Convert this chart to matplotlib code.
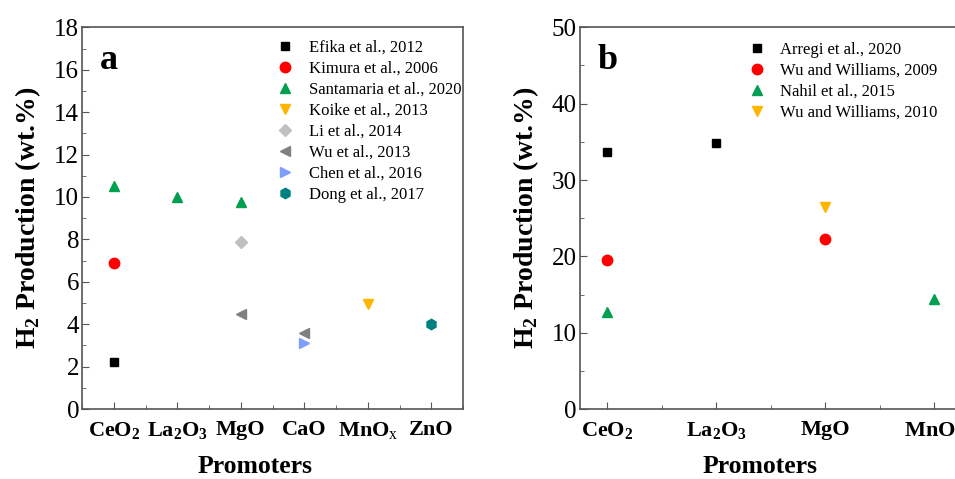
import matplotlib.pyplot as plt
from matplotlib.ticker import MultipleLocator

plt.rcParams['font.family'] = ['Liberation Serif', 'DejaVu Serif']
plt.rcParams['mathtext.fontset'] = 'custom'
plt.rcParams['mathtext.rm'] = 'Liberation Serif'
plt.rcParams['mathtext.bf'] = 'Liberation Serif:bold'

# panel a
cats_a = ['CeO2', 'La2O3', 'MgO', 'CaO', 'MnOx', 'ZnO']
labels_a = ['$\\mathbf{CeO_2}$', '$\\mathbf{La_2O_3}$', 'MgO', 'CaO', 'MnO$_\\mathrm{x}$', 'ZnO']
efika_x, efika_y = ['CeO2'], [2.2]
kimura_x, kimura_y = ['CeO2'], [6.9]
santa_x, santa_y = ['CeO2', 'La2O3', 'MgO'], [10.5, 10.0, 9.75]
koike_x, koike_y = ['MnOx'], [4.95]
li_x, li_y = ['MgO'], [7.9]
wu13_x, wu13_y = ['MgO', 'CaO'], [4.5, 3.6]
chen_x, chen_y = ['CaO'], [3.1]
dong_x, dong_y = ['ZnO'], [4.0]

# panel b
cats_b = ['CeO2', 'La2O3', 'MgO', 'MnOx']
labels_b = ['$\\mathbf{CeO_2}$', '$\\mathbf{La_2O_3}$', 'MgO', 'MnO$_\\mathrm{x}$']
arregi_x, arregi_y = ['CeO2', 'La2O3'], [33.7, 34.9]
ww09_x, ww09_y = ['CeO2', 'MgO'], [19.5, 22.3]
nahil_x, nahil_y = ['CeO2', 'MnOx'], [12.7, 14.4]
ww10_x, ww10_y = ['MgO'], [26.5]

fig = plt.figure(figsize=(9.55, 4.79), dpi=100)
ax1 = fig.add_axes([0.0859, 0.146, 0.399, 0.797])
ax2 = fig.add_axes([0.607, 0.146, 0.4, 0.797])


def idx(cats, xs):
    return [cats.index(c) for c in xs]


ms = 7.5
series_a = [
    (efika_x, efika_y, 's', 'black', 'Efika et al., 2012'),
    (kimura_x, kimura_y, 'o', '#ff0000', 'Kimura et al., 2006'),
    (santa_x, santa_y, '^', '#00a050', 'Santamaria et al., 2020'),
    (koike_x, koike_y, 'v', '#ffb400', 'Koike et al., 2013'),
    (li_x, li_y, 'D', '#c0c0c0', 'Li et al., 2014'),
    (wu13_x, wu13_y, '<', '#808080', 'Wu et al., 2013'),
    (chen_x, chen_y, '>', '#7f9fff', 'Chen et al., 2016'),
    (dong_x, dong_y, 'h', '#008080', 'Dong et al., 2017'),
]
for xs, ys, m, c, lab in series_a:
    s = ms - 1.5 if m in ('D', 's') else ms
    ax1.plot(idx(cats_a, xs), ys, ls='none', marker=m, color=c, ms=s, label=lab)

series_b = [
    (arregi_x, arregi_y, 's', 'black', 'Arregi et al., 2020'),
    (ww09_x, ww09_y, 'o', '#ff0000', 'Wu and Williams, 2009'),
    (nahil_x, nahil_y, '^', '#00a050', 'Nahil et al., 2015'),
    (ww10_x, ww10_y, 'v', '#ffb400', 'Wu and Williams, 2010'),
]
for xs, ys, m, c, lab in series_b:
    s = ms - 1.5 if m == 's' else ms
    ax2.plot(idx(cats_b, xs), ys, ls='none', marker=m, color=c, ms=s, label=lab)

ax1.set_xlim(-0.5, 5.5)
ax1.set_ylim(0, 18)
ax1.set_xticks(range(len(cats_a)))
ax1.set_xticklabels(labels_a)
ax1.yaxis.set_major_locator(MultipleLocator(2))
ax1.yaxis.set_minor_locator(MultipleLocator(1))
ax1.xaxis.set_minor_locator(MultipleLocator(0.5))

ax2.set_xlim(-0.25, 3.25)
ax2.set_ylim(0, 50)
ax2.set_xticks(range(len(cats_b)))
ax2.set_xticklabels(labels_b)
ax2.yaxis.set_major_locator(MultipleLocator(10))
ax2.yaxis.set_minor_locator(MultipleLocator(5))
ax2.xaxis.set_minor_locator(MultipleLocator(0.5))

for ax, letter, lx in [(ax1, 'a', 0.454), (ax2, 'b', 0.471)]:
    for sp in ax.spines.values():
        sp.set_color('#555555')
        sp.set_linewidth(1.2)
    ax.tick_params(which='both', direction='in', colors='#555555', labelcolor='black')
    ax.tick_params(which='major', length=5)
    ax.tick_params(which='minor', length=3)
    ax.tick_params(axis='y', labelsize=18, pad=2)
    ax.tick_params(axis='x', labelsize=16, pad=8)
    for t in ax.get_xticklabels():
        t.set_fontweight('bold')
    ax.set_xlabel('Promoters', fontsize=18.5, fontweight='bold')
    ax.xaxis.set_label_coords(lx, -0.12)
    ax.set_ylabel('H$_\\mathbf{2}$ Production (wt.%)', fontsize=20, fontweight='bold', labelpad=8)
    ax.text(0.047, 0.89, letter, transform=ax.transAxes, fontsize=26, fontweight='bold',
            va='baseline', ha='left')

ax1.legend(loc='upper left', bbox_to_anchor=(0.49, 0.985), frameon=False, fontsize=12,
           handletextpad=0.8, labelspacing=0.3, handlelength=1.2, borderaxespad=0)
ax2.legend(loc='upper left', bbox_to_anchor=(0.42, 0.98), frameon=False, fontsize=12,
           handletextpad=0.8, labelspacing=0.3, handlelength=1.2, borderaxespad=0)

fig.savefig('out.png', dpi=100)
